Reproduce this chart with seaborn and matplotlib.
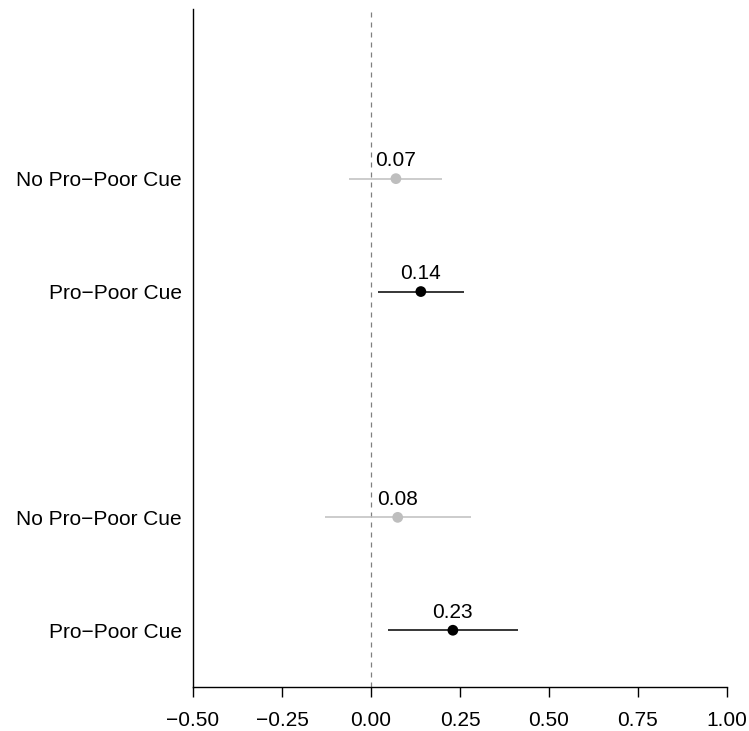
import matplotlib
matplotlib.use("Agg")
import matplotlib.pyplot as plt
import pandas as pd
import seaborn as sns

# values
labels = ["No Pro\u2212Poor Cue", "Pro\u2212Poor Cue", "No Pro\u2212Poor Cue", "Pro\u2212Poor Cue"]
rows = [1, 2, 4, 5]
estimates = [0.07, 0.14, 0.075, 0.23]
lower = [-0.061, 0.02, -0.128, 0.048]
upper = [0.200, 0.261, 0.281, 0.413]
cue = ["no", "yes", "no", "yes"]
shown = ["0.07", "0.14", "0.08", "0.23"]
xticks = [-0.5, -0.25, 0.0, 0.25, 0.5, 0.75, 1.0]

df = pd.DataFrame({"row": rows, "est": estimates, "lo": lower, "hi": upper, "cue": cue, "txt": shown})
colors = {"no": "#BEBEBE", "yes": "black"}

sns.set_style("white")
plt.rcParams["font.family"] = ["Liberation Sans", "DejaVu Sans"]
plt.rcParams["text.color"] = "black"
plt.rcParams["xtick.color"] = "black"
plt.rcParams["ytick.color"] = "black"

fig = plt.figure(figsize=(7.49, 7.31), dpi=100)
ax = fig.add_axes([193 / 749, 44.3 / 731, 534 / 749, 677.4 / 731])

ax.axvline(0, color="#808080", lw=0.9, ls=(0, (4, 4)), zorder=1)
for _, r in df.iterrows():
    ax.hlines(r["row"], r["lo"], r["hi"], color=colors[r["cue"]], lw=1.1, zorder=2)
    ax.text(r["est"], r["row"] - 0.16, r["txt"], ha="center", va="center", fontsize=15)

sns.scatterplot(data=df, x="est", y="row", hue="cue", palette=colors, s=60,
                edgecolor="none", legend=False, ax=ax, zorder=3)

ax.set_xlim(-0.5, 1.0)
ax.set_ylim(5.5, -0.5)
ax.set_xticks(xticks)
ax.set_xticklabels([f"{t:.2f}".replace("-", "\u2212") for t in xticks])
ax.set_yticks(rows)
ax.set_yticklabels(labels)
ax.set_xlabel("")
ax.set_ylabel("")

for s in ["top", "right"]:
    ax.spines[s].set_visible(False)
for s in ["left", "bottom"]:
    ax.spines[s].set_color("black")
    ax.spines[s].set_linewidth(1.0)

ax.tick_params(axis="x", length=7.5, width=1.0, color="black", pad=10, labelsize=15, bottom=True)
ax.tick_params(axis="y", length=0, pad=8, labelsize=15)

fig.savefig("out.png", dpi=100)
